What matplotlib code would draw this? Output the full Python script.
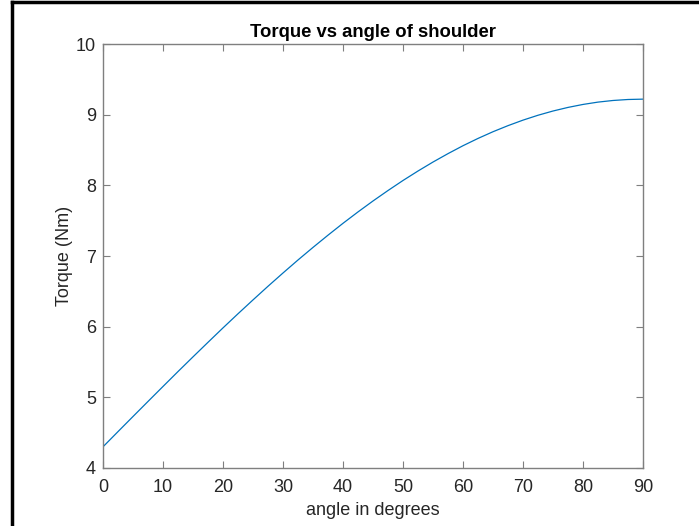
import numpy as np
import matplotlib.pyplot as plt
from matplotlib.lines import Line2D

# shoulder angle (degrees) and holding torque (Nm)
angle_deg = [0, 2.5, 5, 7.5, 10, 12.5, 15, 17.5, 20, 22.5,
             25, 27.5, 30, 32.5, 35, 37.5, 40, 42.5, 45, 47.5,
             50, 52.5, 55, 57.5, 60, 62.5, 65, 67.5, 70, 72.5,
             75, 77.5, 80, 82.5, 85, 87.5, 90]
torque_nm = [4.300, 4.515, 4.729, 4.942, 5.154, 5.365, 5.573, 5.779, 5.983, 6.183,
             6.379, 6.572, 6.760, 6.944, 7.122, 7.295, 7.463, 7.624, 7.779, 7.927,
             8.069, 8.203, 8.330, 8.449, 8.561, 8.664, 8.759, 8.845, 8.923, 8.992,
             9.052, 9.103, 9.145, 9.178, 9.201, 9.215, 9.220]

x_ticks = [0, 10, 20, 30, 40, 50, 60, 70, 80, 90]
y_ticks = [4, 5, 6, 7, 8, 9, 10]

plt.rcParams['font.family'] = ['Liberation Sans', 'DejaVu Sans']

fig = plt.figure(figsize=(6.99, 5.26), dpi=100)
ax = fig.add_axes([0.1474, 0.1103, 0.7725, 0.806])

ax.plot(angle_deg, torque_nm, color='#0072BD', linewidth=0.9)

ax.set_xlim(0, 90)
ax.set_ylim(4, 10)
ax.set_xticks(x_ticks)
ax.set_yticks(y_ticks)

axis_grey = '#7f7f7f'
for side in ax.spines.values():
    side.set_color(axis_grey)
    side.set_linewidth(1.0)
ax.tick_params(direction='in', length=5, width=0.8, color=axis_grey,
               top=True, right=True, labelsize=13, labelcolor='#262626')
ax.tick_params(axis='x', pad=8)
ax.tick_params(axis='y', pad=5)

ax.set_xlabel('angle in degrees', fontsize=13, color='#262626', labelpad=4)
ax.set_ylabel('Torque (Nm)', fontsize=13, color='#262626', labelpad=2)
ax.set_title('Torque vs angle of shoulder', fontsize=13.3, fontweight='bold', pad=5)

# black frame along the left and top edges of the figure
fig.add_artist(Line2D([0.0165, 0.0165], [0.0, 0.9955], transform=fig.transFigure,
                      color='black', linewidth=2.5))
fig.add_artist(Line2D([0.0165, 1.0], [0.9955, 0.9955], transform=fig.transFigure,
                      color='black', linewidth=2.5))

fig.savefig('out.png', dpi=100)
